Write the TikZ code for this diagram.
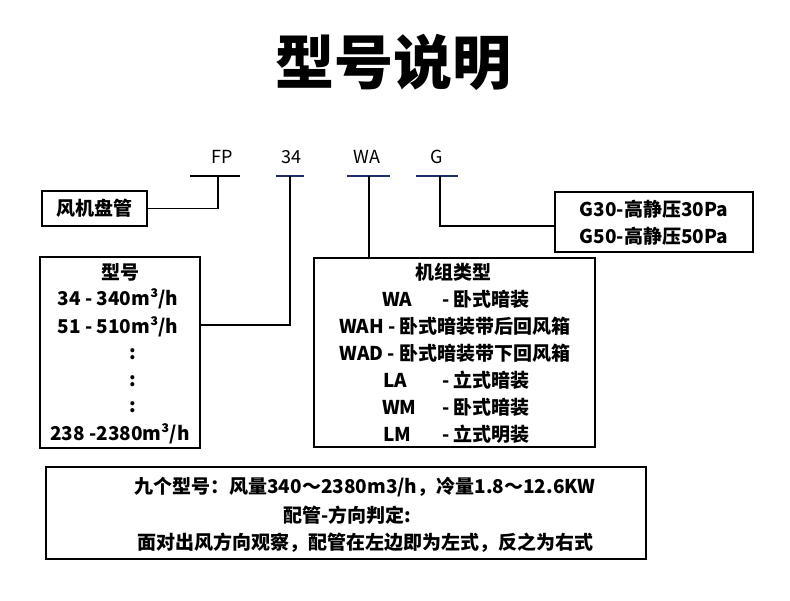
\documentclass[tikz,border=0pt]{standalone}
\usepackage{fontspec}
\usepackage{tikz}
\usetikzlibrary{positioning,calc}
\newfontfamily\cjk{Noto Sans CJK SC}
\definecolor{barnavy}{HTML}{1F2D6B}
\tikzset{
  box/.style={draw, line width=1.8pt, inner sep=0pt},
  link/.style={line width=1.8pt},
  bar/.style={barnavy, line width=1.8pt},
  txt/.style={font=\cjk\bfseries\fontsize{19}{21}\selectfont, inner sep=0pt},
  code/.style={font=\cjk\fontsize{18}{20}\selectfont, inner sep=0pt}
}

\begin{document}
\begin{tikzpicture}[x=1pt,y=-1pt]
    \useasboundingbox (0,0) rectangle (790,600);
    \node[font=\cjk\bfseries\fontsize{59}{63}\selectfont] (title) at (393,62) {型号说明};
    % code letters
    \node[code] (lblFP) at (222,157) {FP};
    \node[code] (lbl34) at (291,157) {34};
    \node[code] (lblWA) at (367,157) {WA};
    \node[code] (lblG) at (437,157) {G};
    \coordinate (stemFP) at (218,176);
    \coordinate (stem34) at (290,176);
    \coordinate (stemWA) at (369,176);
    \coordinate (stemG) at (440,176);
    \draw[link] ([xshift=-28pt]stemFP) -- ([xshift=22pt]stemFP);
    \draw[bar] ([xshift=-14pt]stem34) -- ([xshift=14pt]stem34);
    \draw[bar] ([xshift=-22pt]stemWA) -- ([xshift=21pt]stemWA);
    \draw[bar] ([xshift=-24pt]stemG) -- ([xshift=18pt]stemG);
    % boxes
    \node[box, minimum width=105pt, minimum height=35pt] (fanbox) at (94.5,208.5) {};
    \node[txt] (fantxt) at (fanbox) {风机盘管};
    \node[box, minimum width=198pt, minimum height=60pt] (gbox) at (654,222) {};
    \node[txt] (g30) at (654,209) {G30-高静压30Pa};
    \node[txt] (g50) at (654,236) {G50-高静压50Pa};
    \node[box, minimum width=160pt, minimum height=191pt] (sizebox) at (120,352.5) {};
    \node[txt] (sizehead) at (120,272) {型号};
    \node[txt] (size34) at (118,299) {34 - 340m³/h};
    \node[txt] (size51) at (118,327) {51 - 510m³/h};
    \node[txt] (dotsa) at (133,354) {:};
    \node[txt] (dotsb) at (133,381) {:};
    \node[txt] (dotsc) at (133,407) {:};
    \node[txt] (size238) at (120,434) {238 -2380m³/h};
    \node[box, minimum width=281pt, minimum height=189pt] (typebox) at (454.5,352.5) {};
    \node[txt] (typehead) at (453,272) {机组类型};
    \node[txt, anchor=west] (typeWA) at (382,299) {\makebox[60pt][l]{WA}- 卧式暗装};
    \node[txt] (typeWAH) at (455,326) {WAH - 卧式暗装带后回风箱};
    \node[txt] (typeWAD) at (455,353) {WAD - 卧式暗装带下回风箱};
    \node[txt, anchor=west] (typeLA) at (383,380) {\makebox[59pt][l]{LA}- 立式暗装};
    \node[txt, anchor=west] (typeWM) at (382,407) {\makebox[60pt][l]{WM}- 卧式暗装};
    \node[txt, anchor=west] (typeLM) at (383,434) {\makebox[59pt][l]{LM}- 立式明装};
    \node[box, minimum width=600pt, minimum height=92pt] (notebox) at (346,513) {};
    \node[txt] (note1) at (365,487) {九个型号：风量340～2380m3/h，冷量1.8～12.6KW};
    \node[txt] (note2) at (347,515) {配管-方向判定:};
    \node[txt] (note3) at (365,543) {面对出风方向观察，配管在左边即为左式，反之为右式};
    % connectors
    \draw[link] (stemFP) |- (fanbox.east);
    \draw[link] (stem34) |- ([yshift=27.5pt]sizebox.east);
    \draw[link] (stemWA) -- (stemWA |- typebox.north);
    \draw[link] (stemG) |- ([yshift=-4pt]gbox.west);
\end{tikzpicture}
\end{document}
